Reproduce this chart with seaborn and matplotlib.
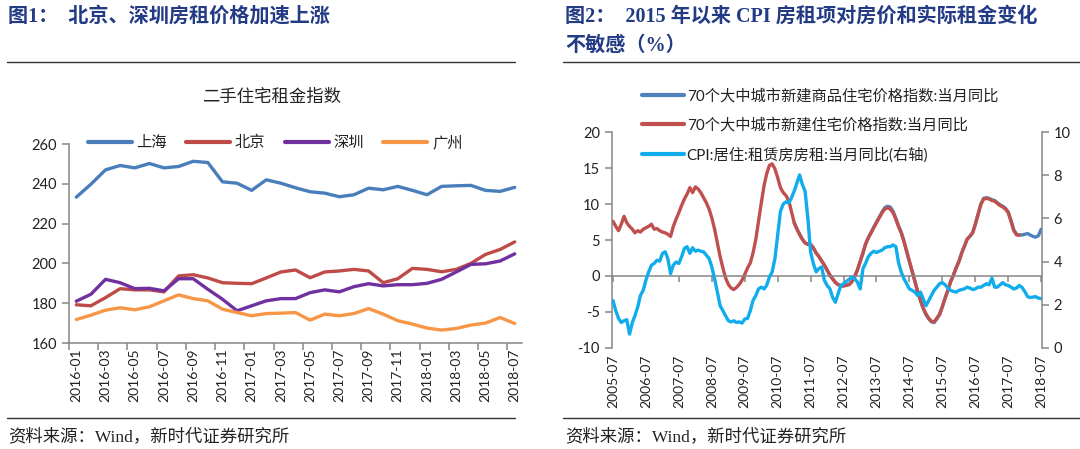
import numpy as np
import pandas as pd
import matplotlib
matplotlib.use('Agg')
import matplotlib.pyplot as plt
from matplotlib.lines import Line2D
import seaborn as sns

sns.set_theme(style='white')
plt.rcParams['font.family'] = ['Lato', 'Noto Sans CJK SC', 'DejaVu Sans']
plt.rcParams['axes.unicode_minus'] = False
plt.rcParams['lines.solid_joinstyle'] = 'round'
plt.rcParams['lines.solid_capstyle'] = 'round'

# ---------------- 图1: 二手住宅租金指数 (2016-01 .. 2018-07) ----------------
months_l = pd.date_range('2016-01-01', '2018-07-01', freq='MS').strftime('%Y-%m').tolist()
cities = ['上海', '北京', '深圳', '广州']
shanghai = [233.3, 239.8, 247.0, 249.2, 248.0, 250.2, 248.0, 248.7, 251.3, 250.7,
            241.0, 240.3, 236.7, 242.0, 240.3, 238.0, 236.0, 235.3, 233.5, 234.5,
            237.8, 237.0, 238.7, 236.7, 234.5, 238.7, 239.0, 239.2, 236.7, 236.2, 238.2]
beijing = [179.2, 178.7, 182.8, 187.3, 186.7, 186.7, 185.7, 193.7, 194.3, 192.7,
           190.3, 190.0, 189.8, 192.7, 195.7, 196.7, 192.8, 195.7, 196.2, 197.0,
           196.2, 190.3, 192.3, 197.5, 197.0, 195.8, 197.0, 200.0, 204.5, 207.0, 210.8]
shenzhen = [181.0, 184.5, 192.0, 190.3, 187.3, 187.5, 186.2, 192.3, 192.3, 187.0,
            182.0, 176.2, 178.7, 181.2, 182.3, 182.3, 185.3, 186.7, 185.7, 188.3,
            189.8, 188.7, 189.3, 189.3, 190.0, 192.0, 195.7, 199.5, 199.8, 201.2, 204.8]
guangzhou = [171.8, 174.0, 176.5, 177.7, 176.7, 178.2, 181.2, 184.2, 182.3, 181.2,
             177.0, 175.3, 173.7, 174.8, 175.0, 175.3, 171.5, 174.5, 173.7, 174.8,
             177.3, 174.5, 171.2, 169.5, 167.5, 166.5, 167.3, 169.0, 170.0, 172.8, 169.8]
city_colors = {'上海': '#4A7EBB', '北京': '#BE4B48', '深圳': '#7030A0', '广州': '#F79646'}

# ---------------- 图2: 房价 vs CPI 房租 (2005-07 .. 2018-07) ----------------
months_r = pd.date_range('2005-07-01', '2018-07-01', freq='MS')
# 70个大中城市新建住宅价格指数:当月同比 (2005-07 .. 2017-11)
house_new = [7.6, 6.9, 6.3, 7.2, 8.3, 7.4, 6.9, 6.5, 6.0, 6.3,
             6.1, 6.5, 6.7, 6.9, 7.2, 6.5, 6.6, 6.3, 6.1, 6.0,
             5.8, 5.5, 6.9, 7.9, 8.8, 9.8, 10.7, 11.4, 12.3, 11.6,
             12.4, 12.1, 11.6, 10.9, 10.2, 9.3, 8.1, 6.5, 4.6, 2.7,
             1.1, -0.3, -1.2, -1.7, -1.9, -1.6, -1.2, -0.6, 0.2, 1.1,
             1.8, 3.2, 5.1, 7.6, 10.2, 12.6, 14.2, 15.4, 15.6, 14.9,
             13.7, 12.3, 11.6, 11.2, 10.5, 9.0, 7.4, 6.5, 5.8, 5.1,
             4.6, 4.4, 4.4, 3.9, 3.2, 2.7, 2.1, 1.5, 0.8, 0.1,
             -0.4, -0.9, -1.2, -1.4, -1.4, -1.3, -1.2, -0.8, -0.1, 0.8,
             2.0, 3.2, 4.4, 5.3, 6.0, 6.7, 7.4, 8.1, 8.8, 9.3,
             9.5, 9.3, 8.8, 7.9, 6.9, 6.0, 4.8, 3.4, 2.0, 0.6,
             -0.8, -2.2, -3.4, -4.5, -5.3, -5.9, -6.3, -6.4, -5.9, -5.3,
             -4.3, -3.1, -2.0, -0.8, 0.1, 1.1, 2.0, 3.2, 4.1, 5.1,
             5.5, 6.0, 7.2, 8.6, 10.0, 10.7, 10.8, 10.7, 10.5, 10.4,
             10.1, 9.8, 9.6, 9.3, 8.8, 7.6, 6.3, 5.7, 5.7]
# 70个大中城市新建商品住宅价格指数:当月同比 (2011-01 .. 2018-07)
house_comm = [7.4, 6.5, 5.8, 5.1, 4.6, 4.4, 4.4, 3.9, 3.2, 2.7,
              2.1, 1.5, 0.8, 0.1, -0.4, -0.9, -1.2, -1.4, -1.4, -1.3,
              -1.2, -0.8, -0.1, 0.8, 2.0, 3.2, 4.4, 5.3, 6.0, 6.8,
              7.5, 8.2, 8.9, 9.5, 9.7, 9.6, 9.0, 8.0, 7.0, 6.1,
              4.9, 3.4, 2.0, 0.6, -0.8, -2.2, -3.4, -4.5, -5.4, -6.0,
              -6.4, -6.5, -6.0, -5.4, -4.3, -3.1, -2.0, -0.8, 0.1, 1.1,
              2.0, 3.2, 4.1, 5.1, 5.5, 6.0, 7.2, 8.6, 10.0, 10.8,
              10.9, 10.8, 10.6, 10.5, 10.2, 9.9, 9.7, 9.4, 8.9, 7.7,
              6.4, 5.8, 5.7, 5.7, 5.8, 5.9, 5.7, 5.5, 5.4, 5.6,
              6.5]
# CPI:居住:租赁房房租:当月同比 (右轴, 2005-07 .. 2018-07)
cpi_rent = [2.19, 1.72, 1.36, 1.17, 1.25, 1.30, 0.63, 1.17, 1.48, 1.88,
            2.42, 2.66, 3.13, 3.52, 3.83, 3.91, 4.06, 4.02, 4.38, 4.45,
            4.14, 3.44, 3.83, 3.98, 3.91, 4.22, 4.61, 4.69, 4.38, 4.64,
            4.48, 4.53, 4.48, 4.45, 4.30, 4.14, 3.75, 3.20, 2.58, 1.95,
            1.72, 1.48, 1.25, 1.20, 1.25, 1.17, 1.20, 1.14, 1.33, 1.36,
            1.72, 2.19, 2.42, 2.73, 2.81, 2.73, 2.89, 3.28, 3.52, 4.14,
            5.23, 6.33, 6.67, 6.77, 6.72, 6.95, 7.27, 7.66, 8.02, 7.58,
            7.27, 6.02, 4.45, 3.91, 3.52, 3.67, 3.75, 3.13, 2.89, 2.73,
            2.34, 2.11, 2.50, 2.89, 2.97, 3.08, 3.17, 3.28, 3.20, 3.05,
            2.73, 3.67, 3.91, 4.22, 4.38, 4.48, 4.42, 4.48, 4.53, 4.64,
            4.69, 4.69, 4.77, 4.69, 3.98, 3.52, 3.20, 2.97, 2.73, 2.66,
            2.58, 2.42, 2.58, 2.27, 1.95, 2.19, 2.42, 2.66, 2.81, 2.97,
            3.02, 2.92, 2.77, 2.66, 2.61, 2.58, 2.66, 2.70, 2.73, 2.81,
            2.77, 2.70, 2.73, 2.81, 2.81, 2.89, 2.97, 2.92, 3.23, 2.81,
            2.81, 2.92, 3.02, 2.92, 2.89, 2.81, 2.73, 2.77, 2.89, 2.80,
            2.60, 2.37, 2.33, 2.35, 2.37, 2.30, 2.28]
lab_comm = '70个大中城市新建商品住宅价格指数:当月同比'
lab_new = '70个大中城市新建住宅价格指数:当月同比'
lab_cpi = 'CPI:居住:租赁房房租:当月同比(右轴)'

GREY = '#868686'
TXT = '#222222'
W, H = 1080, 449

fig = plt.figure(figsize=(W / 100, H / 100), dpi=100)
fig.patch.set_facecolor('white')

# ---- left panel
df_l = pd.DataFrame({'month': months_l * 4,
                     'city': np.repeat(cities, len(months_l)),
                     'value': shanghai + beijing + shenzhen + guangzhou})
ax1 = fig.add_axes([69 / W, 1 - 343 / H, (522 - 69) / W, (343 - 144) / H])
sns.lineplot(data=df_l, x='month', y='value', hue='city', hue_order=cities,
             palette=city_colors, linewidth=2.4, sort=False, ax=ax1)
ax1.set_xlim(-0.5, len(months_l) - 0.5)
ax1.set_ylim(160, 260)
ax1.set_yticks(range(160, 261, 20))
ax1.set_xticks(np.arange(-0.5, len(months_l) - 1, 2))
ax1.set_xticklabels([])
ax1.set_xticks(np.arange(0, len(months_l), 2), minor=True)
ax1.set_xticklabels(months_l[::2], minor=True, rotation=90)
ax1.tick_params(axis='x', which='major', length=5, color=GREY, width=1.1, direction='out', bottom=True)
ax1.tick_params(axis='x', which='minor', length=0, labelsize=10, labelcolor=TXT, pad=4, bottom=True)
ax1.tick_params(axis='y', length=5, color=GREY, width=1.1, direction='out', left=True,
                labelsize=10.5, labelcolor=TXT)
ax1.set_xlabel('')
ax1.set_ylabel('')
for s in ['top', 'right']:
    ax1.spines[s].set_visible(False)
for s in ['left', 'bottom']:
    ax1.spines[s].set_color(GREY)
    ax1.spines[s].set_linewidth(1.1)
sns.move_legend(ax1, 'upper center', bbox_to_anchor=(275 / W, 1 - 128 / H),
                bbox_transform=fig.transFigure, ncol=4, frameon=False, title=None,
                handlelength=2.9, handletextpad=0.3, columnspacing=1.25, borderpad=0,
                fontsize=11)
for t in ax1.get_legend().get_texts():
    t.set_color(TXT)
for h in ax1.get_legend().legend_handles:
    h.set_linewidth(3)

# ---- right panel
ax2 = fig.add_axes([611.7 / W, 1 - 347.7 / H, (1041.7 - 611.7) / W, (347.7 - 132.3) / H])
ax2r = ax2.twinx()
sns.lineplot(x=months_r[66:], y=house_comm, color='#4F81BD', linewidth=2.4, ax=ax2, label=lab_comm)
sns.lineplot(x=months_r[:len(house_new)], y=house_new, color='#C0504D', linewidth=2.4, ax=ax2, label=lab_new)
sns.lineplot(x=months_r, y=cpi_rent, color='#10ACEC', linewidth=2.4, ax=ax2r, label=lab_cpi)
handles = ax2.get_legend_handles_labels()[0] + ax2r.get_legend_handles_labels()[0]
labels = [lab_comm, lab_new, lab_cpi]
for a in (ax2, ax2r):
    if a.get_legend() is not None:
        a.get_legend().remove()
    a.set_xlabel('')
    a.set_ylabel('')

ax2.set_ylim(-10, 20)
ax2.set_yticks(range(-10, 21, 5))
ax2r.set_ylim(0, 10)
ax2r.set_yticks(range(0, 11, 2))
ax2.set_xlim(months_r[0] - pd.Timedelta(days=14), months_r[-1] + pd.Timedelta(days=6))
tick_dates = months_r[::12]
ax2.set_xticks(tick_dates)
ax2.set_xticklabels([d.strftime('%Y-%m') for d in tick_dates])

ax2.spines['bottom'].set_position(('data', 0))
ax2.spines['bottom'].set_color(GREY)
ax2.spines['bottom'].set_linewidth(1.1)
ax2.spines['left'].set_color(GREY)
ax2.spines['left'].set_linewidth(1.1)
for s in ['top', 'right']:
    ax2.spines[s].set_visible(False)
ax2.tick_params(axis='x', length=4, color=GREY, width=1.1, direction='out', bottom=True, labelbottom=False)
ax2.tick_params(axis='y', length=5, color=GREY, width=1.1, direction='out', left=True,
                labelsize=10.5, labelcolor=TXT)

ax2r.xaxis.set_visible(True)
for s in ['top', 'left', 'bottom']:
    ax2r.spines[s].set_visible(False)
ax2r.spines['right'].set_color(GREY)
ax2r.spines['right'].set_linewidth(1.1)
ax2r.tick_params(axis='x', length=0, bottom=True, labelbottom=True, labelrotation=90,
                 labelsize=10, labelcolor=TXT, pad=5)
ax2r.tick_params(axis='y', length=5, color=GREY, width=1.1, direction='out', right=True,
                 labelsize=10.5, labelcolor=TXT)

leg = fig.legend(handles, labels, loc='upper left', bbox_to_anchor=(634 / W, 1 - 81 / H),
                 frameon=False, fontsize=11, handlelength=2.8, handletextpad=0.15,
                 labelspacing=0.95, borderpad=0)
for t in leg.get_texts():
    t.set_color(TXT)
for h in leg.legend_handles:
    h.set_linewidth(3)

# ---- titles, rules, sources
TITLE_C = '#233A85'
serif_cjk = ['Liberation Serif', 'Noto Sans CJK SC']
fig.text(8 / W, 1 - 17 / H, '图1：  北京、深圳房租价格加速上涨', fontsize=14.5, fontweight='bold',
         color=TITLE_C, family=serif_cjk, va='center', ha='left')
fig.text(565 / W, 1 - 17 / H, '图2：  2015 年以来 CPI 房租项对房价和实际租金变化', fontsize=14.5,
         fontweight='bold', color=TITLE_C, family=serif_cjk, va='center', ha='left')
fig.text(565 / W, 1 - 46 / H, '不敏感（%）', fontsize=14.5, fontweight='bold',
         color=TITLE_C, family=serif_cjk, va='center', ha='left')
fig.text(272 / W, 1 - 97 / H, '二手住宅租金指数', fontsize=12.5, color=TXT,
         va='center', ha='center')

for x0, x1 in [(7, 515), (563, 1080)]:
    for y in (62, 418):
        fig.add_artist(Line2D([x0 / W, x1 / W], [1 - y / H, 1 - y / H], color='#333333',
                              linewidth=1.0, transform=fig.transFigure))

fig.text(8 / W, 1 - 437 / H, '资料来源：Wind，新时代证券研究所', fontsize=12.5, color=TXT,
         family=serif_cjk, va='center', ha='left')
fig.text(565 / W, 1 - 437 / H, '资料来源：Wind，新时代证券研究所', fontsize=12.5, color=TXT,
         family=serif_cjk, va='center', ha='left')

fig.savefig('out.png', dpi=100, facecolor='white')
